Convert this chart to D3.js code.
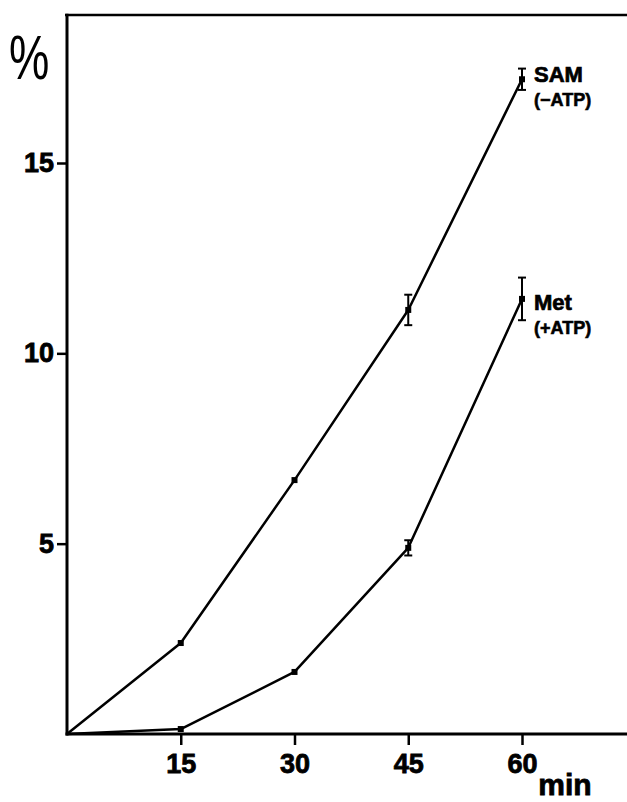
<!DOCTYPE html>
<html><head><meta charset="utf-8">
<script src="https://cdn.jsdelivr.net/npm/d3@7"></script>
<style>html,body{margin:0;padding:0;background:#fff;} svg{display:block;}</style>
</head><body>
<svg id="c" width="627" height="802"></svg>
<script>
const times = [0, 15, 30, 45, 60];
const samValues = [0, 2.39, 6.67, 11.14, 17.2];
const samErrors = [0, 0.05, 0.08, 0.4, 0.28];
const metValues = [0, 0.13, 1.63, 4.89, 11.43];
const metErrors = [0, 0, 0.05, 0.2, 0.56];
const xTicks = [15, 30, 45, 60];
const yTicks = [5, 10, 15];
const seriesLabels = [["SAM", "(\u2212ATP)"], ["Met", "(+ATP)"]];

const svg = d3.select("#c");
const font = "'Liberation Sans', Arial, Helvetica, sans-serif";
const x = d3.scaleLinear().domain([0, 60]).range([67, 522]);
const y = d3.scaleLinear().domain([0, 15]).range([734, 163]);
const topY = 15;

function heavy(sel, w) {
  return sel.attr("font-family", font).attr("font-weight", "bold").attr("fill", "#000")
    .attr("stroke", "#000").attr("stroke-width", w).attr("paint-order", "stroke");
}

// frame: top border
svg.append("line").attr("x1", 65).attr("x2", 627).attr("y1", topY).attr("y2", topY)
  .attr("stroke", "#000").attr("stroke-width", 2.5);

// y axis
const yAxis = d3.axisLeft(y).tickValues(yTicks).tickSize(10).tickPadding(3).tickFormat(d3.format("d"));
const gy = svg.append("g").attr("transform", `translate(${x(0)},0)`).call(yAxis);
gy.select(".domain").remove();
gy.selectAll(".tick line").attr("stroke-width", 2.5);
heavy(gy.selectAll(".tick text"), 0.8).attr("font-size", 27);
svg.append("line").attr("x1", x(0)).attr("x2", x(0)).attr("y1", topY - 1.25).attr("y2", y(0) + 1.5)
  .attr("stroke", "#000").attr("stroke-width", 3);

// x axis
const xAxis = d3.axisBottom(x).tickValues(xTicks).tickSize(11).tickPadding(9).tickFormat(d3.format("d"));
const gx = svg.append("g").attr("transform", `translate(0,${y(0)})`).call(xAxis);
gx.select(".domain").remove();
gx.selectAll(".tick line").attr("stroke-width", 2.5);
heavy(gx.selectAll(".tick text"), 0.8).attr("font-size", 27);
svg.append("line").attr("x1", x(0) - 1.5).attr("x2", 627).attr("y1", y(0)).attr("y2", y(0))
  .attr("stroke", "#000").attr("stroke-width", 3);

// axis titles
heavy(svg.append("text"), 0.8).attr("x", 565).attr("y", 795).attr("text-anchor", "middle")
  .attr("font-size", 30).text("min");
svg.append("text").attr("transform", "translate(9,79) scale(0.72,1)")
  .attr("font-family", font).attr("font-size", 63).text("%");

// series
const series = [
  {vals: samValues, errs: samErrors, label: seriesLabels[0], ly: 82},
  {vals: metValues, errs: metErrors, label: seriesLabels[1], ly: 310}
];
const line = d3.line().x((d, i) => x(times[i])).y(d => y(d));
series.forEach(s => {
  svg.append("path").datum(s.vals).attr("d", line).attr("fill", "none")
    .attr("stroke", "#000").attr("stroke-width", 2.5).attr("stroke-linejoin", "round");
  s.vals.forEach((v, i) => {
    if (i === 0) return;
    const cx = x(times[i]), cy = y(v), e = s.errs[i];
    if (e > 0.1) {
      svg.append("line").attr("x1", cx).attr("x2", cx).attr("y1", y(v + e)).attr("y2", y(v - e))
        .attr("stroke", "#000").attr("stroke-width", 2);
      [v + e, v - e].forEach(w => svg.append("line").attr("x1", cx - 4).attr("x2", cx + 4)
        .attr("y1", y(w)).attr("y2", y(w)).attr("stroke", "#000").attr("stroke-width", 2));
    }
    svg.append("rect").attr("x", cx - 3).attr("y", cy - 3).attr("width", 6).attr("height", 6).attr("fill", "#000");
  });
  heavy(svg.append("text"), 0.7).attr("x", 534).attr("y", s.ly).attr("font-size", 22).text(s.label[0]);
  heavy(svg.append("text"), 0.6).attr("x", 534).attr("y", s.ly + 24).attr("font-size", 18).text(s.label[1]);
});
</script>
</body></html>
